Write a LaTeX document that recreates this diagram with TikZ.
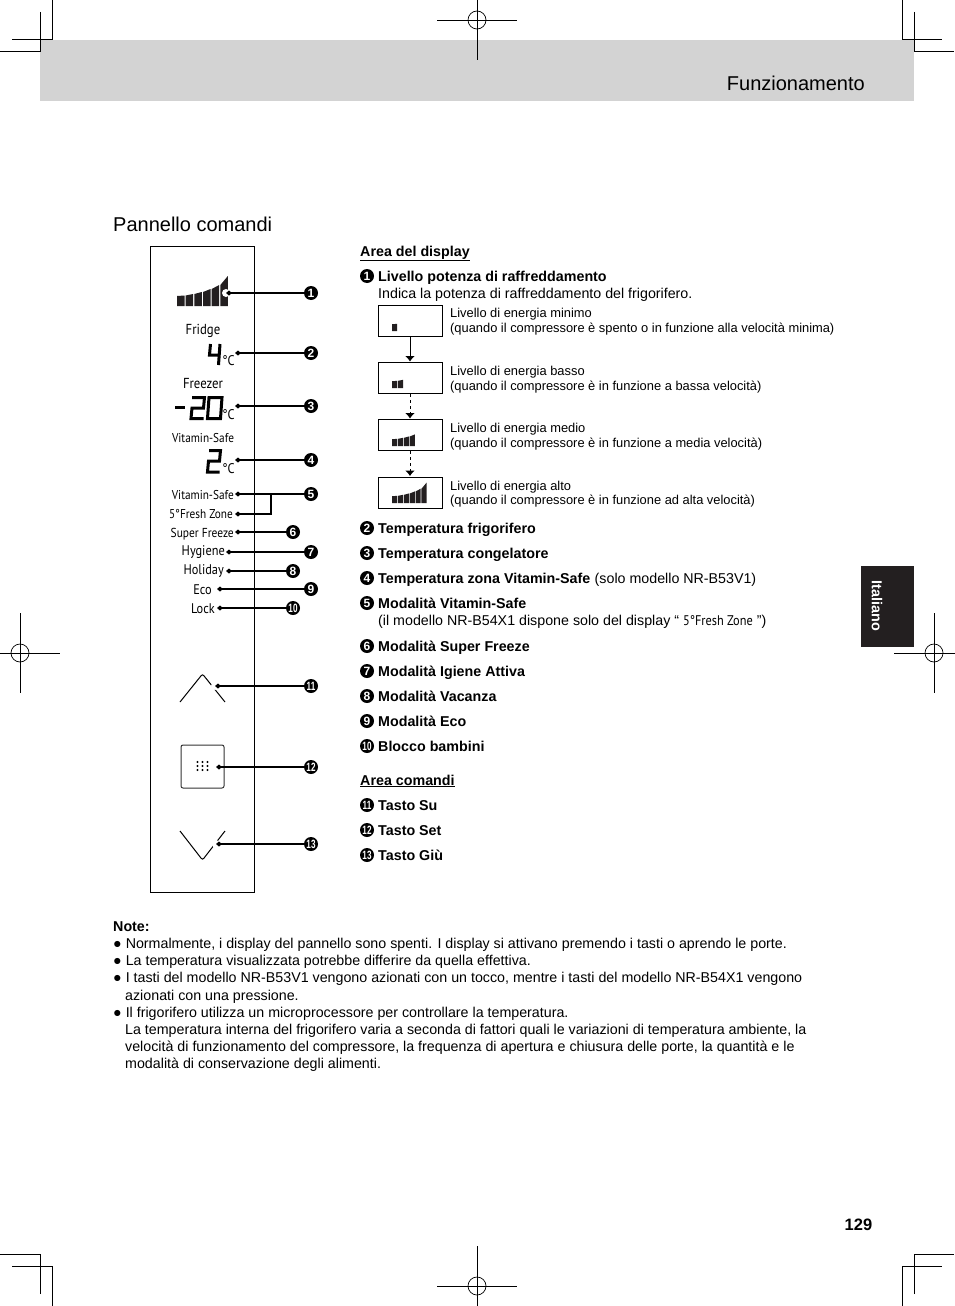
\documentclass[tikz,border=0pt]{standalone}
\usepackage{fontspec}
\setmainfont{Liberation Sans}
\newfontfamily\lcdfont[FakeStretch=0.88]{PT Sans}
\newfontfamily\narrownum[FakeStretch=0.68]{Liberation Sans Bold}
\usetikzlibrary{arrows.meta}
\definecolor{headgray}{HTML}{D3D3D3}
\definecolor{tabblack}{HTML}{231F20}
\tikzset{
    body/.style={anchor=base west, inner sep=0pt, font=\fontsize{14.25}{17}\selectfont},
    small/.style={anchor=base west, inner sep=0pt, font=\fontsize{12.87}{15}\selectfont},
    head/.style={anchor=base west, inner sep=0pt, font=\fontsize{14.28}{17}\selectfont\bfseries},
    numb/.style={circle, fill=black, text=white, inner sep=0pt, minimum size=14pt, font=\fontsize{12}{12}\selectfont\bfseries},
    numbw/.style={numb, font=\fontsize{12}{12}\selectfont\narrownum},
    lcd/.style={inner sep=0pt, font=\fontsize{#1}{#1}\selectfont\lcdfont},
    lvlbox/.style={draw, line width=1pt, minimum width=64pt, minimum height=31pt, inner sep=0pt},
    lead/.style={{Diamond[length=6pt,width=5pt]}-, line width=#1},
    seg/.style={line width=3pt, line join=miter},
    crop/.style={line width=1pt},
    flow/.style={line width=1pt, -{Latex[length=5.5pt,width=10pt]}, shorten >=0.5pt}
}
% bars of the power level, n bars from the lower left corner
\newcommand{\lvlbars}[4]{%
    \foreach \bidx/\lo/\hi in {1/10/10.5,2/10.5/12,3/12/14,4/14/17,5/17/21,6/21/30} {
        \ifnum\bidx>#4\else
            \fill[tabblack] ({#1+#3*8.67*(\bidx-1)},#2) -- ++({#3*7.5},0)
                -- ++(0,{-#3*\hi}) -- ({#1+#3*8.67*(\bidx-1)},{#2-#3*\lo}) -- cycle;
        \fi
    }
}
\begin{document}
\begin{tikzpicture}[x=1pt, y=-1pt]
    \useasboundingbox (0,0) rectangle (954,1306);
    % header and side tab
    \fill[headgray] (40,40) rectangle (914,101);
    \fill[tabblack] (861,566) rectangle (914,647);
    \node[text=white, rotate=-90, inner sep=0pt, font=\fontsize{14.4}{14}\selectfont\bfseries] (tab) at (877,606) {Italiano};
    \node[anchor=base east, inner sep=0pt, font=\fontsize{20}{24}\selectfont] (title) at (865,90) {Funzionamento};
    \node[anchor=base west, inner sep=0pt, font=\fontsize{20}{24}\selectfont] (section) at (113,231) {Pannello comandi};
    \node[anchor=base, inner sep=0pt, font=\fontsize{16.5}{18}\selectfont\bfseries] (page) at (858.5,1230) {129};
    % crop marks
    \foreach \sx/\ox in {1/0,-1/954}
        \foreach \sy/\oy in {1/0,-1/1306} {
            \draw[crop] (\ox+\sx*52,\oy) -- (\ox+\sx*52,\oy+\sy*40) -- (\ox+\sx*12,\oy+\sy*40);
            \draw[crop] (\ox+\sx*40,\oy+\sy*12) -- (\ox+\sx*40,\oy+\sy*52) -- (\ox,\oy+\sy*52);
        }
    \foreach \cx/\cy in {477/20,477/1286,20/653,934/653} {
        \draw[line width=0.7pt] (\cx,\cy) circle (9);
        \draw[line width=0.7pt] (\cx-40,\cy) -- (\cx+40,\cy) (\cx,\cy-40) -- (\cx,\cy+40);
    }
    % panel
    \draw[line width=0.9pt] (150.5,246.5) rectangle (254.5,892.5);
    \lvlbars{177}{306}{1}{6}
    \foreach \txt/\lx/\ly/\fs in {Fridge/203/330.5/14.5,Freezer/203/384/14.5,Vitamin-Safe/203/438/12.8}
        \node[lcd=\fs] (lbl\txt) at (\lx,\ly) {\txt};
    \foreach \txt/\name/\lx/\ly/\fs in {Vitamin-Safe/vs/234/495/12.8,{5°Fresh Zone}/fz/233/514/12.8,Super Freeze/sf/234/534/13,Hygiene/hy/225/552.5/14,Holiday/ho/224/571/14,Eco/ec/212/590/14,Lock/lo/215/609/14}
        \node[lcd=\fs, anchor=east] (lbl\name) at (\lx,\ly) {\txt};
    % lcd digits
    \draw[seg] (210.5,344) -- (209.5,355) -- (219,355) (220,344) -- (218.5,365);
    \draw[seg] (175,407.5) -- (185,407.5);
    \draw[seg] (192,397.5) -- (204.5,397.5) -- (203.5,408) -- (192,408) -- (191,418.5) -- (203.5,418.5);
    \draw[seg] (209,397.5) -- (222,397.5) -- (220.5,418.5) -- (207.5,418.5) -- cycle;
    \draw[seg] (209,450.5) -- (220.5,450.5) -- (219.5,461) -- (208.5,461) -- (207.5,472) -- (219.5,472);
    \foreach \cy in {361,414.5,469}
        \node[lcd=14] (deg\cy) at (228.5,\cy) {°C};
    % keys
    \draw[line width=1pt, rounded corners=2pt] (180,702) -- (202.5,674) -- (225,702);
    \draw[line width=1pt, rounded corners=2pt] (180,831) -- (202.5,860) -- (225,831);
    \draw[line width=1pt, draw=black!80, rounded corners=2pt] (181,745) rectangle (224,788);
    \foreach \dx in {197.5,202.5,207.5}
        \foreach \dy in {762,766,770}
            \fill (\dx,\dy) circle (1.1);
    % leaders
    \foreach \hx/\hy in {226/293,215/686,216/844}
        \fill[white] (\hx,\hy) circle (4);
    \foreach \idx/\mx/\my/\tx/\lw in {1/311/293/226/1.6,2/311/353/235/2.2,3/311/406/235/1.8,4/311/460/235/2.2,5/311/494/235/1.8,6/293/532/235/2.2,7/311/552/226/1.8,8/293/571/226/2.2,9/311/589/217/1.2,10/293/608/217/1.2,11/311/686/215/1.6,12/311/767/216/2.2,13/311/844/216/2.2} {
        \ifnum\idx>9
            \node[numbw] (m\idx) at (\mx,\my) {\idx};
        \else
            \node[numb] (m\idx) at (\mx,\my) {\idx};
        \fi
        \coordinate (t\idx) at (\tx,\my);
        \draw[lead=\lw] (t\idx) -- (m\idx);
    }
    \coordinate (t5b) at (235,514);
    \coordinate (t5c) at (271,494);
    \draw[lead=2] (t5b) -| (t5c);
    % display area
    \node[head] (areadisp) at (360,256) {\underline{Area del display}};
    \node[numb] (n1) at (367,276) {1};
    \node[head] (item1) at (378,281) {Livello potenza di raffreddamento};
    \node[body] (item1b) at (378,298) {Indica la potenza di raffreddamento del frigorifero.};
    \node[lvlbox] (lvl1) at (410,320.5) {};
    \node[lvlbox] (lvl2) at (410,378) {};
    \node[lvlbox] (lvl3) at (410,435) {};
    \node[lvlbox] (lvl4) at (410,492.5) {};
    \draw[flow] (lvl1) -- (lvl2);
    \draw[flow, dashed] (lvl2) -- (lvl3);
    \draw[flow, dashed] (lvl3) -- (lvl4);
    \lvlbars{392}{331}{.68}{1}
    \lvlbars{392}{388}{.68}{2}
    \lvlbars{392}{446}{.68}{4}
    \lvlbars{392}{503}{.68}{6}
    \node[small] (txt1a) at (450,317) {Livello di energia minimo};
    \node[small] (txt1b) at (450,332) {(quando il compressore è spento o in funzione alla velocità minima)};
    \node[small] (txt2a) at (450,375) {Livello di energia basso};
    \node[small] (txt2b) at (450,390) {(quando il compressore è in funzione a bassa velocità)};
    \node[small] (txt3a) at (450,432) {Livello di energia medio};
    \node[small] (txt3b) at (450,447) {(quando il compressore è in funzione a media velocità)};
    \node[small] (txt4a) at (450,490) {Livello di energia alto};
    \node[small] (txt4b) at (450,504) {(quando il compressore è in funzione ad alta velocità)};
    \foreach \idx/\yb/\txt in {2/533/Temperatura frigorifero,3/558/Temperatura congelatore,4/583/Temperatura zona Vitamin-Safe,5/608/Modalità Vitamin-Safe,6/651/Modalità Super Freeze,7/676/Modalità Igiene Attiva,8/701/Modalità Vacanza,9/726/Modalità Eco,10/751/Blocco bambini,11/810/Tasto Su,12/835/Tasto Set,13/860/Tasto Giù} {
        \ifnum\idx>9
            \node[numbw] (n\idx) at (367,\yb-5) {\idx};
        \else
            \node[numb] (n\idx) at (367,\yb-5) {\idx};
        \fi
        \node[head] (item\idx) at (378,\yb) {\txt};
    }
    \node[body, anchor=base west] (item4b) at (item4.base east) {\ (solo modello NR-B53V1)};
    \node[body] (item5b) at (378,625) {(il modello NR-B54X1 dispone solo del display “ {\lcdfont\fontsize{14}{14}\selectfont 5°Fresh Zone} ”)};
    \node[head] (areacom) at (360,785) {\underline{Area comandi}};
    % notes
    \node[head] (note) at (113,931) {Note:};
    \foreach \yb/\txt in {948/{● Normalmente, i display del pannello sono spenti. I display si attivano premendo i tasti o aprendo le porte.},965/{● La temperatura visualizzata potrebbe differire da quella effettiva.},982/{● I tasti del modello NR-B53V1 vengono azionati con un tocco, mentre i tasti del modello NR-B54X1 vengono},1017/{● Il frigorifero utilizza un microprocessore per controllare la temperatura.}}
        \node[body] (bul\yb) at (113,\yb) {\txt};
    \foreach \yb/\txt in {1000/{azionati con una pressione.},1034/{La temperatura interna del frigorifero varia a seconda di fattori quali le variazioni di temperatura ambiente, la},1051/{velocità di funzionamento del compressore, la frequenza di apertura e chiusura delle porte, la quantità e le},1068/{modalità di conservazione degli alimenti.}}
        \node[body] (cont\yb) at (125,\yb) {\txt};
\end{tikzpicture}
\end{document}
